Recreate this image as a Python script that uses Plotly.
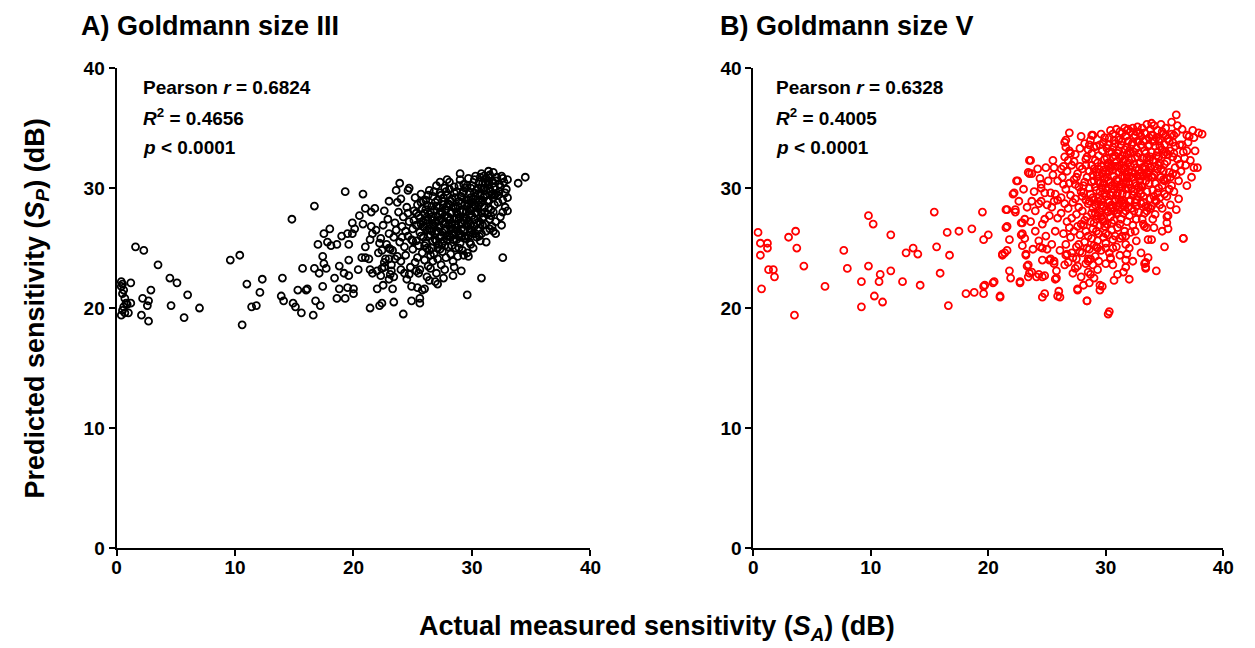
import plotly.graph_objects as pgo

# ------------------------------------------------------------------------------------ #
# values: (actual S_A, predicted S_P) in dB

# A) Goldmann size III - the loose points
sparse_a = [
    (0.4, 22.2), (0.5, 22.0), (0.4, 21.8), (0.6, 21.5), (0.5, 21.2), (0.7, 20.8), (0.8, 20.4), (0.6, 20.1),
    (0.5, 19.8), (0.7, 19.6), (0.4, 19.4), (0.9, 20.3), (1.2, 22.1), (1.2, 20.4), (1.0, 19.6), (1.6, 25.1),
    (2.3, 24.8), (3.5, 23.6), (2.2, 20.8), (2.7, 20.6), (2.6, 20.2), (2.1, 19.4), (2.7, 18.9), (2.9, 21.5),
    (4.5, 22.5), (5.1, 22.1), (4.6, 20.2), (6.0, 21.1), (5.7, 19.2), (7.0, 20.0), (9.6, 24.0), (10.4, 24.4),
    (10.6, 18.6), (11.0, 22.0), (11.4, 20.1), (11.8, 20.2), (12.1, 21.3), (12.3, 22.4), (14.8, 27.4), (13.9, 21.0),
    (14.1, 20.6), (14.0, 22.5), (14.9, 20.4), (15.1, 20.1), (15.6, 19.6), (15.3, 21.5), (15.7, 23.3), (16.0, 21.5),
    (16.1, 21.6), (16.6, 19.4), (16.7, 28.5), (16.7, 23.3), (16.8, 20.6), (17.2, 20.2), (17.1, 22.9), (17.0, 25.3),
    (17.4, 24.3), (17.5, 26.2), (18.0, 26.6), (17.8, 25.5), (18.1, 25.2), (17.4, 21.8), (17.5, 23.7), (17.7, 23.3),
    (18.6, 25.3), (18.4, 22.5), (18.6, 20.8), (18.8, 23.5), (18.8, 21.6), (19.0, 26.0), (19.2, 22.9), (19.3, 20.8),
    (19.3, 29.7), (19.5, 26.2), (19.6, 25.3), (19.6, 24.0), (19.6, 22.7), (19.5, 21.7), (20.0, 21.6), (20.0, 21.2),
    (19.9, 26.2), (19.9, 27.1), (20.1, 26.6), (20.4, 23.2), (20.8, 29.5), (20.5, 27.7), (20.8, 27.0), (21.0, 28.3),
    (21.5, 28.0), (21.8, 28.3), (20.7, 24.2), (21.0, 24.2), (21.3, 24.1), (21.0, 25.1), (21.4, 25.7), (21.4, 23.2),
    (21.6, 22.9), (21.4, 20.0), (22.0, 21.6), (22.2, 20.2), (22.4, 20.4), (22.5, 21.9), (21.5, 26.8), (21.9, 26.5),
    (21.6, 26.2), (22.2, 25.4), (22.4, 24.8), (22.6, 23.8), (22.6, 23.4), (23.0, 28.9), (23.1, 24.9), (23.0, 24.1),
    (23.3, 21.6), (23.4, 22.6), (23.4, 20.5), (23.2, 23.1), (23.7, 28.8), (23.9, 30.4), (23.6, 29.8), (24.2, 19.5),
    (24.5, 22.4), (24.6, 29.8), (24.7, 30.0), (24.9, 20.6), (25.3, 23.1), (25.4, 21.7), (25.6, 20.8), (25.6, 20.4),
    (25.8, 21.5), (26.0, 21.6), (26.4, 22.3), (27.1, 22.0), (27.6, 22.5), (28.4, 22.7), (29.1, 23.1), (29.6, 21.1),
    (30.8, 22.5), (32.6, 24.2), (33.9, 30.4), (34.5, 30.9), (33.0, 29.2), (33.0, 28.1), (32.6, 28.0), (31.8, 26.4),
    (31.2, 26.4), (30.8, 26.2), (31.5, 26.6), (29.7, 24.3), (29.3, 24.4), (29.9, 25.3), (29.0, 31.2), (31.4, 31.4),
    (27.9, 30.7), (22.0, 23.1), (22.3, 22.7), (23.0, 22.4), (24.0, 23.2), (24.7, 22.8), (25.5, 22.9), (26.2, 22.6),
    (26.5, 23.3), (27.0, 22.9), (27.7, 23.2), (28.5, 23.4), (24.9, 21.8), (26.9, 22.2),
]

# A) Goldmann size III - the dense cloud
cloud_a = [
    (22.1, 24.6), (22.3, 25.8), (22.5, 26.9), (22.7, 24.1), (22.8, 25.3), (22.9, 27.4), (23.0, 26.2), (23.2, 23.6),
    (23.3, 24.8), (23.4, 25.9), (23.5, 27.1), (23.6, 26.5), (23.7, 24.3), (23.8, 28.0), (23.9, 25.5), (24.0, 23.9),
    (24.1, 26.8), (24.2, 27.6), (24.3, 25.1), (24.4, 24.4), (24.5, 28.4), (24.6, 26.0), (24.7, 27.2), (24.8, 23.4),
    (24.9, 25.7), (22.4, 23.3), (22.6, 28.1), (23.1, 22.8), (24.0, 29.1), (24.3, 22.9),
    (25.0, 26.6), (25.0, 24.9), (25.1, 28.1), (25.1, 27.3), (25.2, 23.8), (25.2, 29.2), (25.3, 25.6), (25.3, 26.9),
    (25.4, 24.2), (25.4, 28.6), (25.5, 27.7), (25.5, 25.2), (25.6, 26.3), (25.6, 23.2), (25.7, 29.5), (25.7, 27.0),
    (25.8, 24.6), (25.8, 28.3), (25.9, 25.9), (25.9, 26.8), (26.0, 27.9), (26.0, 24.0), (26.1, 29.0), (26.1, 25.4),
    (26.2, 26.5), (26.2, 28.6), (26.3, 23.5), (26.3, 27.3), (26.4, 24.8), (26.4, 29.8),
    (26.5, 26.1), (26.5, 28.0), (26.6, 25.0), (26.6, 27.6), (26.7, 29.3), (26.7, 23.9), (26.8, 26.8), (26.8, 24.5),
    (26.9, 28.8), (26.9, 25.7), (27.0, 27.2), (27.0, 30.2), (27.1, 24.1), (27.1, 26.4), (27.2, 28.4), (27.2, 25.3),
    (27.3, 29.6), (27.3, 27.8), (27.4, 23.6), (27.4, 26.0), (27.5, 28.9), (27.5, 24.7), (27.6, 27.0), (27.6, 25.6),
    (27.7, 30.0), (27.7, 26.6), (27.8, 28.2), (27.8, 24.2), (27.9, 29.4), (27.9, 27.5),
    (28.0, 25.1), (28.0, 26.9), (28.1, 30.5), (28.1, 28.6), (28.2, 24.5), (28.2, 27.9), (28.3, 26.2), (28.3, 29.1),
    (28.4, 25.7), (28.4, 23.9), (28.5, 27.4), (28.5, 30.1), (28.6, 28.3), (28.6, 25.0), (28.7, 26.7), (28.7, 29.7),
    (28.8, 24.3), (28.8, 27.8), (28.9, 28.9), (28.9, 26.0), (29.0, 30.7), (29.0, 25.4), (29.1, 27.1), (29.1, 29.3),
    (29.2, 24.8), (29.2, 28.0), (29.3, 26.5), (29.3, 30.3), (29.4, 27.6), (29.4, 25.8),
    (29.5, 29.0), (29.5, 26.9), (29.6, 28.5), (29.6, 24.6), (29.7, 30.8), (29.7, 27.3), (29.8, 25.5), (29.8, 29.6),
    (29.9, 28.1), (29.9, 26.3), (30.0, 30.2), (30.0, 27.7), (30.1, 25.0), (30.1, 29.1), (30.2, 28.6), (30.2, 26.8),
    (30.3, 31.0), (30.3, 27.9), (30.4, 25.9), (30.4, 29.8), (30.5, 28.3), (30.5, 26.5), (30.6, 30.5), (30.6, 27.2),
    (30.7, 29.4), (30.7, 25.6), (30.8, 28.8), (30.8, 31.2), (30.9, 27.5), (30.9, 26.9),
    (31.0, 30.0), (31.0, 28.4), (31.1, 29.4), (31.1, 27.0), (31.2, 30.8), (31.2, 25.5), (31.3, 28.9), (31.3, 27.8),
    (31.4, 30.3), (31.4, 29.0), (31.5, 31.1), (31.5, 27.4), (31.6, 29.7), (31.6, 28.2), (31.7, 30.6), (31.7, 26.8),
    (31.8, 29.2), (31.8, 31.3), (31.9, 28.6), (31.9, 30.1), (32.0, 29.5), (32.0, 27.2), (32.1, 30.9), (32.2, 28.8),
    (32.3, 30.3), (32.3, 29.7), (32.4, 27.6), (32.5, 31.0), (32.6, 29.0), (32.7, 30.5), (32.8, 28.4), (32.9, 29.9),
    (33.0, 30.7), (32.5, 26.9), (32.0, 26.2),
    (25.6, 27.5), (25.9, 28.9), (26.0, 26.7), (26.2, 25.0), (26.4, 27.8), (26.6, 26.4), (26.8, 28.2), (26.9, 27.1),
    (27.0, 25.6), (27.1, 29.0), (27.2, 26.8), (27.3, 24.9), (27.4, 28.0), (27.5, 26.3), (27.6, 29.2), (27.7, 25.2),
    (27.8, 27.1), (27.9, 26.0), (28.0, 28.7), (28.1, 27.3), (28.2, 25.9), (28.3, 28.0), (28.4, 26.6), (28.5, 29.6),
    (28.6, 27.0), (28.7, 25.7), (28.8, 28.5), (28.9, 27.4), (29.0, 26.2), (29.1, 28.7), (29.2, 27.0), (29.3, 29.7),
    (29.4, 26.0), (29.5, 28.0), (29.6, 27.0), (29.7, 29.0), (29.8, 27.8), (29.9, 30.0), (30.0, 26.5), (30.1, 28.4),
    (30.2, 27.4), (30.3, 29.3), (30.4, 28.0), (30.5, 30.0), (30.6, 28.6), (30.7, 27.0), (30.8, 30.0), (30.9, 29.0),
    (31.0, 27.6), (31.1, 30.4), (26.3, 26.0), (26.7, 27.0), (27.1, 27.6), (27.5, 27.9), (27.9, 28.5), (28.3, 27.0),
    (28.7, 28.0), (29.1, 26.6), (29.5, 27.5), (29.9, 27.0), (26.5, 24.4), (27.3, 25.9), (28.1, 26.0), (28.9, 25.0),
    (29.7, 26.0), (30.3, 26.2), (26.1, 27.3), (25.3, 27.9), (24.6, 27.9), (24.1, 25.9), (23.5, 24.1), (23.0, 25.0),
    (24.4, 26.4), (25.0, 25.6), (25.7, 26.0),
    (25.7, 28.8), (25.9, 27.2), (26.0, 25.2), (26.1, 28.2), (26.3, 29.4), (26.4, 26.6), (26.6, 28.5), (26.7, 25.6),
    (26.8, 29.7), (26.9, 26.2), (27.0, 28.5), (27.1, 25.0), (27.2, 27.3), (27.3, 30.5), (27.4, 27.4), (27.5, 25.4),
    (27.6, 28.6), (27.7, 27.7), (27.8, 29.7), (27.9, 25.7), (28.0, 27.6), (28.1, 29.9), (28.2, 26.6), (28.3, 25.2),
    (28.4, 28.4), (28.5, 26.1), (28.6, 29.2), (28.7, 27.5), (28.8, 26.4), (28.9, 30.2), (29.0, 28.1), (29.1, 25.9),
    (29.2, 29.6), (29.3, 27.3), (29.4, 28.7), (29.5, 25.8), (29.6, 30.2), (29.7, 28.7), (29.8, 26.6), (29.9, 29.2),
    (30.0, 28.8), (30.1, 26.2), (30.2, 30.7), (30.3, 28.5), (30.4, 27.1), (30.5, 29.5), (30.6, 26.0), (30.7, 30.9),
    (30.8, 27.9), (30.9, 30.4), (31.0, 29.2), (31.1, 28.0), (31.2, 29.8), (31.3, 30.6), (31.4, 28.3), (31.5, 29.9),
    (31.6, 27.7), (31.7, 29.5), (31.8, 30.4), (31.9, 29.4), (32.0, 30.6), (32.2, 29.4), (32.4, 30.1), (32.6, 30.8),
    (32.8, 29.6), (26.2, 27.6), (26.6, 27.3), (27.0, 26.4), (27.4, 29.4), (27.8, 26.5), (28.2, 28.9), (28.6, 26.7),
    (29.0, 27.6), (29.4, 30.0), (29.8, 28.2), (30.2, 29.6), (30.6, 29.0), (31.0, 31.0), (31.4, 31.0), (31.8, 28.0),
]

# B) Goldmann size V - the loose points
sparse_b = [
    (0.4, 26.3), (0.6, 25.4), (0.6, 24.4), (1.2, 25.4), (1.2, 25.0), (0.7, 21.6), (1.3, 23.2), (1.7, 23.2),
    (1.8, 22.6), (3.0, 25.9), (3.6, 26.4), (3.7, 25.0), (4.3, 23.5), (3.5, 19.4), (6.1, 21.8), (7.7, 24.8),
    (8.0, 23.3), (9.2, 22.2), (9.2, 20.1), (9.8, 27.7), (10.2, 27.0), (9.8, 23.5), (10.8, 22.8), (10.7, 22.2),
    (10.3, 21.0), (11.0, 20.5), (11.7, 26.1), (11.7, 23.1), (12.7, 22.2), (13.0, 24.6), (13.6, 25.0), (14.0, 24.5),
    (14.2, 21.9), (15.4, 28.0), (15.6, 25.1), (15.9, 22.9), (16.5, 26.3), (16.7, 24.4), (16.6, 20.2), (17.5, 26.4),
    (18.1, 21.2), (18.6, 26.6), (18.8, 21.3), (19.5, 28.0), (19.6, 25.7), (19.6, 21.8), (19.6, 21.2), (20.0, 26.1),
    (20.4, 22.1), (21.0, 20.9), (21.2, 24.4), (21.4, 24.6), (21.5, 26.7), (21.5, 28.2), (21.8, 23.1), (21.8, 25.7),
    (21.9, 22.5), (22.3, 28.0), (22.1, 29.5), (22.4, 30.6), (22.7, 22.2), (22.8, 26.1), (22.8, 27.1), (23.2, 24.4),
    (23.3, 23.5), (23.5, 22.9), (23.5, 32.3), (23.5, 31.2), (24.1, 22.6), (24.6, 20.9), (24.6, 22.6), (24.6, 24.0),
    (25.2, 24.0), (25.6, 23.7), (25.7, 22.4), (26.0, 21.4), (26.1, 20.9), (26.5, 33.8), (26.9, 34.6), (27.6, 21.5),
    (28.4, 20.6), (28.8, 34.4), (30.2, 19.5), (29.7, 21.8), (30.7, 22.3), (32.0, 22.4), (33.3, 23.7), (33.4, 23.3),
    (34.3, 23.1), (35.0, 25.1), (36.6, 25.8), (36.0, 28.2), (37.5, 31.7), (37.8, 31.7), (38.2, 34.5), (36.0, 36.1),
    (33.9, 35.4), (30.9, 34.9), (19.7, 21.9), (20.5, 22.2), (21.0, 21.0), (21.6, 26.8), (21.2, 24.5), (21.6, 24.8),
    (22.7, 22.1), (23.2, 24.5), (23.4, 22.6), (23.4, 23.6), (23.7, 23.0), (24.3, 22.8), (24.8, 21.2), (25.9, 21.0),
    (25.8, 22.5), (25.8, 23.1), (25.6, 23.9), (25.3, 24.1), (24.8, 22.7), (24.6, 25.0), (24.4, 25.1), (28.5, 23.0),
    (29.5, 21.5), (30.0, 23.7), (31.7, 23.4), (33.4, 23.4), (33.6, 24.2), (26.6, 24.4), (27.5, 24.1), (28.5, 23.9),
    (28.9, 23.6), (28.7, 24.1), (29.2, 25.1), (30.0, 25.0), (30.6, 25.0), (31.8, 24.5), (31.7, 24.0), (32.0, 25.0),
    (33.5, 26.7), (34.1, 26.7), (33.6, 25.7), (33.4, 23.8), (23.1, 25.8), (22.9, 26.2), (26.6, 34.0), (28.9, 34.4),
    (31.9, 34.9), (23.6, 32.3), (23.4, 31.3), (23.7, 31.2), (22.5, 30.6), (22.2, 29.6), (21.6, 28.2), (22.3, 28.2),
    (24.9, 31.7), (25.6, 31.7), (26.2, 31.6), (26.8, 32.3), (25.5, 31.1), (25.9, 30.6), (26.4, 30.3), (24.4, 30.8),
    (24.5, 30.3), (24.5, 30.0), (24.8, 29.6), (25.3, 29.6), (25.7, 29.5), (24.5, 28.9), (25.0, 28.6), (25.4, 28.4),
    (23.7, 28.9), (24.3, 28.7), (24.0, 28.1), (23.1, 27.4), (22.9, 27.1), (24.8, 27.4), (25.9, 27.5), (36.9, 30.2),
    (36.6, 25.8), (35.2, 27.6), (35.2, 27.1), (29.5, 21.9), (28.4, 20.6), (27.6, 21.6), (30.3, 19.7), (22.6, 28.9),
    (23.0, 29.9), (23.3, 28.4), (23.6, 27.2), (23.9, 29.7), (24.0, 26.4), (24.2, 31.6), (24.6, 27.0), (24.9, 26.0),
    (25.1, 30.6), (25.2, 27.7), (25.4, 25.3), (25.6, 28.9), (25.7, 26.4), (25.9, 29.0), (25.0, 24.9), (25.5, 32.3),
    (24.3, 25.6), (23.8, 24.9), (22.9, 25.2), (31.2, 24.4), (31.7, 25.3), (32.6, 25.6), (33.0, 24.6), (32.3, 23.9),
    (29.3, 23.2), (30.6, 23.6), (30.4, 24.2), (29.0, 22.5), (28.6, 22.1), (27.9, 22.6), (27.4, 23.3), (28.1, 21.9),
    (31.0, 22.8), (34.8, 26.4), (35.3, 26.6), (33.9, 25.7), (31.5, 23.0),
]

# B) Goldmann size V - the dense cloud
cloud_b = [
    (26.1, 24.8), (26.2, 27.9), (26.3, 30.9), (26.4, 26.2), (26.5, 28.7), (26.5, 32.6), (26.6, 25.3), (26.6, 29.9),
    (26.7, 27.2), (26.7, 31.4), (26.8, 23.8), (26.8, 28.3), (26.9, 26.7), (26.9, 30.4), (26.2, 29.2), (26.4, 31.8),
    (26.7, 24.5), (26.9, 33.1),
    (27.0, 25.9), (27.0, 29.4), (27.1, 31.9), (27.1, 27.5), (27.2, 24.2), (27.2, 28.8), (27.3, 30.7), (27.3, 26.4),
    (27.4, 32.8), (27.4, 29.1), (27.5, 25.1), (27.5, 27.8), (27.6, 31.2), (27.6, 23.5), (27.7, 28.4), (27.7, 30.1),
    (27.8, 26.1), (27.8, 33.3), (27.9, 29.7), (27.9, 27.0), (27.2, 22.9), (27.5, 30.9), (27.8, 24.7), (27.3, 32.2),
    (27.6, 26.8),
    (28.0, 28.1), (28.0, 31.6), (28.0, 24.6), (28.1, 26.9), (28.1, 30.2), (28.2, 33.7), (28.2, 25.5), (28.3, 29.0),
    (28.3, 32.4), (28.3, 23.7), (28.4, 27.6), (28.4, 30.9), (28.5, 26.0), (28.5, 28.7), (28.5, 33.2), (28.6, 24.9),
    (28.6, 31.4), (28.7, 29.5), (28.7, 27.2), (28.7, 22.8), (28.8, 30.5), (28.8, 25.8), (28.8, 32.9), (28.9, 28.3),
    (28.9, 26.6), (28.9, 31.1), (28.1, 29.6), (28.2, 27.3), (28.4, 25.0), (28.6, 30.0), (28.8, 27.9), (28.9, 29.2),
    (28.3, 31.9), (28.5, 24.1), (28.7, 34.0),
    (29.0, 27.1), (29.0, 30.6), (29.0, 25.2), (29.1, 32.3), (29.1, 28.6), (29.1, 24.3), (29.2, 29.8), (29.2, 26.4),
    (29.2, 33.5), (29.3, 31.0), (29.3, 27.7), (29.3, 25.6), (29.4, 29.2), (29.4, 32.7), (29.4, 23.9), (29.5, 28.0),
    (29.5, 30.4), (29.5, 26.9), (29.6, 31.8), (29.6, 24.8), (29.6, 29.0), (29.7, 27.4), (29.7, 33.1), (29.7, 30.0),
    (29.8, 25.9), (29.8, 28.5), (29.8, 31.5), (29.9, 26.8), (29.9, 29.6), (29.9, 32.4), (29.1, 27.9), (29.3, 28.9),
    (29.5, 29.7), (29.7, 28.3), (29.9, 30.8), (29.2, 31.3), (29.4, 26.2), (29.6, 27.6), (29.8, 33.8), (29.0, 29.0),
    (30.0, 28.2), (30.0, 31.2), (30.0, 25.4), (30.1, 29.8), (30.1, 33.3), (30.1, 27.0), (30.2, 30.6), (30.2, 26.1),
    (30.2, 32.1), (30.3, 28.8), (30.3, 34.2), (30.3, 24.6), (30.4, 31.7), (30.4, 27.6), (30.4, 29.4), (30.5, 33.0),
    (30.5, 26.5), (30.5, 30.2), (30.6, 28.4), (30.6, 32.6), (30.6, 25.7), (30.7, 29.9), (30.7, 31.0), (30.7, 27.3),
    (30.8, 33.7), (30.8, 28.9), (30.8, 26.0), (30.9, 30.7), (30.9, 32.2), (30.9, 27.9), (30.0, 29.3), (30.1, 30.9),
    (30.2, 28.0), (30.3, 31.4), (30.4, 30.5), (30.5, 28.6), (30.6, 31.5), (30.7, 28.1), (30.8, 30.3), (30.9, 29.4),
    (30.2, 33.6), (30.4, 24.1), (30.6, 34.5), (30.8, 31.8), (30.5, 27.1),
    (31.0, 29.6), (31.0, 32.9), (31.0, 26.7), (31.1, 31.3), (31.1, 28.2), (31.1, 34.0), (31.2, 30.1), (31.2, 25.8),
    (31.2, 32.5), (31.3, 28.9), (31.3, 33.6), (31.3, 27.4), (31.4, 31.0), (31.4, 29.5), (31.4, 34.6), (31.5, 27.9),
    (31.5, 32.2), (31.5, 30.4), (31.6, 26.4), (31.6, 33.2), (31.6, 28.7), (31.7, 31.7), (31.7, 29.9), (31.7, 34.3),
    (31.8, 27.2), (31.8, 32.8), (31.8, 30.8), (31.9, 28.4), (31.9, 33.9), (31.9, 31.4), (31.0, 30.6), (31.1, 29.1),
    (31.2, 31.9), (31.3, 30.3), (31.4, 32.7), (31.5, 29.0), (31.6, 30.9), (31.7, 28.1), (31.8, 29.4), (31.9, 30.0),
    (31.2, 27.0), (31.4, 26.0), (31.6, 35.0), (31.8, 33.4), (31.5, 31.6),
    (32.0, 30.3), (32.0, 33.1), (32.0, 27.7), (32.1, 31.8), (32.1, 29.0), (32.1, 34.7), (32.2, 32.4), (32.2, 28.3),
    (32.3, 30.9), (32.3, 33.8), (32.3, 26.9), (32.4, 29.7), (32.4, 32.0), (32.5, 34.4), (32.5, 28.8), (32.5, 31.2),
    (32.6, 33.3), (32.6, 27.4), (32.6, 30.2), (32.7, 32.6), (32.7, 29.3), (32.7, 35.1), (32.8, 31.5), (32.8, 28.0),
    (32.8, 33.9), (32.9, 30.6), (32.9, 32.1), (32.9, 29.8), (32.0, 31.0), (32.2, 30.0), (32.4, 33.0), (32.6, 31.7),
    (32.8, 30.1), (32.1, 26.3), (32.3, 35.0), (32.5, 30.4), (32.7, 31.0), (32.9, 34.6), (32.4, 28.1), (32.6, 29.0),
    (33.0, 31.3), (33.0, 33.6), (33.0, 28.7), (33.1, 32.5), (33.1, 30.1), (33.1, 35.0), (33.2, 29.3), (33.2, 33.9),
    (33.3, 31.8), (33.3, 27.9), (33.3, 34.6), (33.4, 30.6), (33.4, 32.9), (33.5, 29.7), (33.5, 35.3), (33.5, 31.2),
    (33.6, 33.5), (33.6, 28.4), (33.7, 32.3), (33.7, 30.4), (33.7, 34.2), (33.8, 31.7), (33.8, 29.1), (33.9, 33.0),
    (33.9, 30.9), (33.0, 30.2), (33.2, 31.0), (33.4, 34.0), (33.6, 32.0), (33.8, 34.9), (33.1, 27.4), (33.3, 26.8),
    (33.5, 28.1), (33.7, 31.3), (33.9, 28.5),
    (34.0, 32.3), (34.0, 29.8), (34.0, 34.4), (34.1, 31.1), (34.1, 35.2), (34.2, 33.5), (34.2, 30.4), (34.3, 28.9),
    (34.3, 32.7), (34.4, 34.8), (34.4, 31.6), (34.5, 30.0), (34.5, 33.9), (34.6, 29.2), (34.6, 32.1), (34.7, 35.3),
    (34.7, 30.9), (34.8, 33.2), (34.8, 28.3), (34.9, 31.4), (34.9, 34.5), (34.2, 27.8), (34.4, 33.0), (34.6, 34.1),
    (34.8, 30.2), (34.1, 29.3), (34.5, 31.9), (34.9, 32.8),
    (35.0, 33.6), (35.0, 30.6), (35.1, 35.0), (35.2, 32.2), (35.2, 29.3), (35.3, 34.1), (35.4, 31.3), (35.5, 33.1),
    (35.5, 28.6), (35.6, 35.5), (35.6, 30.2), (35.7, 32.6), (35.8, 34.4), (35.8, 29.7), (35.9, 31.7), (35.3, 27.7),
    (35.1, 33.0), (35.7, 33.8),
    (36.0, 34.6), (36.1, 32.4), (36.2, 30.6), (36.3, 33.6), (36.4, 31.4), (36.5, 34.9), (36.6, 33.0), (36.8, 31.9),
    (36.9, 34.4), (36.2, 29.1), (37.0, 33.8), (37.2, 32.3), (37.4, 34.8), (37.6, 33.1), (37.9, 34.6), (37.3, 30.9),
    (28.6, 28.9), (28.8, 31.9), (29.0, 33.4), (29.1, 30.1), (29.2, 27.4), (29.3, 32.1), (29.4, 30.6), (29.5, 33.6),
    (29.6, 28.6), (29.7, 31.2), (29.8, 27.2), (29.9, 34.2), (30.0, 30.0), (30.1, 32.5), (30.2, 29.0), (30.3, 33.0),
    (30.4, 28.3), (30.5, 31.9), (30.6, 29.6), (30.7, 34.0), (30.8, 32.7), (30.9, 28.5), (31.0, 31.8), (31.1, 33.1),
    (31.2, 28.7), (31.3, 31.6), (31.4, 33.9), (31.5, 28.5), (31.6, 32.4), (31.7, 30.4), (31.8, 34.8), (31.9, 32.1),
    (32.0, 28.9), (32.1, 32.9), (32.2, 31.3), (32.3, 29.4), (32.4, 34.2), (32.5, 32.5), (32.6, 28.5), (32.7, 33.9),
    (32.8, 32.9), (32.9, 31.0), (33.0, 34.3), (33.1, 31.7), (33.2, 28.8), (33.3, 33.1), (33.4, 31.6), (33.5, 32.5),
    (33.6, 30.9), (33.7, 33.6), (33.8, 32.6), (33.9, 34.4), (34.0, 30.9), (34.1, 33.9), (34.2, 31.8), (34.3, 34.2),
    (34.4, 29.6), (34.5, 32.6), (34.6, 33.5), (34.7, 31.6), (34.8, 34.7), (34.9, 30.7), (35.0, 32.0), (35.1, 34.4),
    (35.2, 30.8), (35.3, 32.8), (35.4, 33.9), (35.5, 30.9), (35.6, 34.5), (35.7, 31.2), (35.8, 32.9), (35.9, 33.5),
    (36.0, 31.1), (36.1, 35.2), (36.3, 32.0), (36.5, 33.6), (36.7, 32.5), (36.9, 33.1), (37.1, 34.3), (37.5, 34.2),
    (29.0, 31.6), (29.4, 31.6), (29.8, 30.4), (30.2, 31.8), (30.6, 33.4), (31.0, 27.9), (31.4, 30.1), (31.8, 31.1),
    (32.2, 33.6), (32.6, 34.7), (33.0, 29.5), (33.4, 28.5), (33.8, 28.3), (34.2, 29.0), (34.6, 28.6), (35.0, 29.5),
    (35.4, 29.9), (31.2, 34.7), (30.4, 34.8), (29.6, 34.5), (28.4, 32.6), (28.2, 30.5), (28.0, 29.3), (27.8, 31.8),
    (27.4, 30.3), (27.0, 32.9), (26.6, 33.4), (27.9, 34.3), (28.6, 33.6), (30.0, 26.2), (30.9, 25.1), (31.7, 26.0),
    (32.5, 26.4), (33.2, 27.0), (34.0, 27.4), (29.3, 25.0), (28.3, 26.4), (27.7, 25.3), (27.1, 24.6), (26.5, 23.6),
]

panel_titles = ['A) Goldmann size III', 'B) Goldmann size V']
pearson_r = ['0.6824', '0.6328']
r_squared = ['0.4656', '0.4005']
p_text = ['0.0001', '0.0001']
tick_vals = [0, 10, 20, 30, 40]

# ------------------------------------------------------------------------------------ #

FONT = 'Liberation Sans, Arial, Helvetica, sans-serif'
W, H = 1255, 648

fig = pgo.Figure()

def add_panel(points, colour, xname, yname):
    xs = [p[0] for p in points]
    ys = [p[1] for p in points]
    fig.add_trace(pgo.Scatter(x=xs, y=ys, mode='markers', xaxis=xname, yaxis=yname, showlegend=False,
                              marker=dict(symbol='circle-open', size=7, color=colour, line=dict(width=1.8, color=colour))))

add_panel(sparse_a + cloud_a, 'black', 'x', 'y')
add_panel(sparse_b + cloud_b, '#ff0000', 'x2', 'y2')

axis_style = dict(range=[0, 40], tickvals=tick_vals, showgrid=False, zeroline=False, showline=True,
                  linecolor='black', linewidth=2, ticks='outside', ticklen=6, tickwidth=2, tickcolor='black',
                  tickfont=dict(family=FONT, size=19, color='black', weight='bold'), fixedrange=True)

ydom = [(H - 556) / H, (H - 60) / H]   # plot area from y=60 to y=556 px

fig.update_layout(
    width=W, height=H,
    margin=dict(l=0, r=0, t=0, b=0),
    plot_bgcolor='white', paper_bgcolor='white',
    xaxis=dict(domain=[113/W, 593/W], anchor='y', ticklabelstandoff=-5, **axis_style),
    yaxis=dict(domain=ydom, anchor='x', **axis_style),
    xaxis2=dict(domain=[758/W, 1234/W], anchor='y2', ticklabelstandoff=-5, **axis_style),
    yaxis2=dict(domain=ydom, anchor='x2', **axis_style),
)

# panel titles and stats text
for i, x0 in enumerate([75, 722]):
    fig.add_annotation(text='<b>' + panel_titles[i] + '</b>', xref='paper', yref='paper', x=x0/W, y=1-17/H,
                       xanchor='left', yanchor='middle', showarrow=False, font=dict(family=FONT, size=27, color='black'))
    sx = [138, 779][i]
    lines = ['Pearson <i>r</i> = ' + pearson_r[i], '<i>R</i><sup>2</sup> = ' + r_squared[i], '<i>p</i> &lt; ' + p_text[i]]
    for j, line in enumerate(lines):
        fig.add_annotation(text='<b>' + line + '</b>', xref='paper', yref='paper', x=sx/W, y=1-(80+31*j)/H,
                           xanchor='left', yanchor='middle', showarrow=False, font=dict(family=FONT, size=19, color='black'))

# shared axis titles
fig.add_annotation(text='<b>Predicted sensitivity (<i>S<sub>P</sub></i>) (dB)</b>', xref='paper', yref='paper',
                   x=32/W, y=1-309/H, xanchor='center', yanchor='middle', textangle=-90, showarrow=False,
                   font=dict(family=FONT, size=27, color='black'))
fig.add_annotation(text='<b>Actual measured sensitivity (<i>S<sub>A</sub></i>) (dB)</b>', xref='paper', yref='paper',
                   x=660/W, y=1-639/H, xanchor='center', yanchor='middle', showarrow=False,
                   font=dict(family=FONT, size=27, color='black'))

# page body has a default margin, drop it so the figure sits at 0,0
fig.write_html("out.html", config={'displayModeBar': False},
               post_script="document.body.style.margin='0px';")
